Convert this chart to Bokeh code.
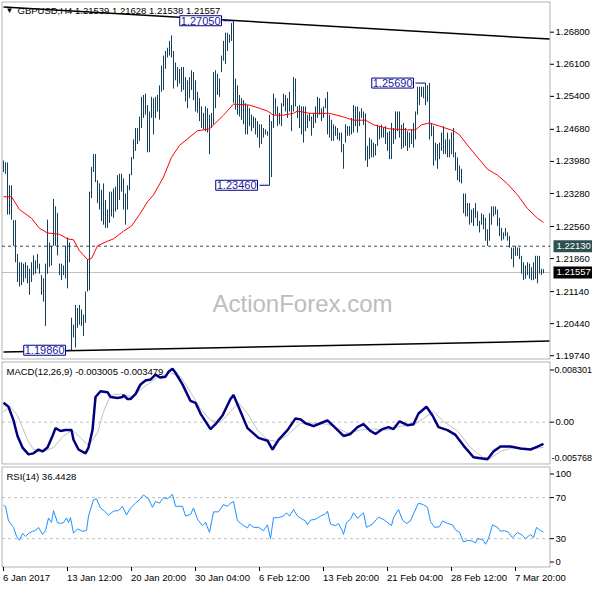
from bokeh.plotting import figure
from bokeh.layouts import column
from bokeh.models import Range1d, Label, ColumnDataSource, BoxAnnotation
from bokeh.embed import file_html
from bokeh.resources import INLINE

FONT = "Liberation Sans"
FS = "9.5px"

# ---------------- data ----------------
bar_high = [
    1.2400, 1.2396, 1.2396, 1.2346, 1.2346, 1.2270, 1.2270, 1.2196, 1.2178, 1.2178,
    1.2175, 1.2178, 1.2171, 1.2164, 1.2178, 1.2193, 1.2182, 1.2196, 1.2175, 1.2150,
    1.2143, 1.2175, 1.2271, 1.2221, 1.2214, 1.2316, 1.2300, 1.2286, 1.2175, 1.2175,
    1.2171, 1.2214, 1.2232, 1.2221, 1.2057, 1.2042, 1.2085, 1.2078, 1.2085, 1.2075,
    1.2064, 1.2114, 1.2185, 1.2332, 1.2386, 1.2414, 1.2414, 1.2357, 1.2350, 1.2336,
    1.2350, 1.2314, 1.2293, 1.2332, 1.2332, 1.2339, 1.2343, 1.2368, 1.2371, 1.2371,
    1.2361, 1.2328, 1.2346, 1.2371, 1.2407, 1.2446, 1.2471, 1.2471, 1.2496, 1.2539,
    1.2543, 1.2546, 1.2521, 1.2507, 1.2539, 1.2536, 1.2539, 1.2543, 1.2564, 1.2607,
    1.2629, 1.2639, 1.2646, 1.2661, 1.2673, 1.2639, 1.2614, 1.2604, 1.2600, 1.2604,
    1.2604, 1.2582, 1.2575, 1.2582, 1.2597, 1.2593, 1.2575, 1.2550, 1.2536, 1.2518,
    1.2504, 1.2518, 1.2514, 1.2500, 1.2504, 1.2593, 1.2597, 1.2589, 1.2579, 1.2629,
    1.2661, 1.2679, 1.2679, 1.2675, 1.2700, 1.2705, 1.2579, 1.2564, 1.2543, 1.2536,
    1.2532, 1.2525, 1.2521, 1.2514, 1.2500, 1.2496, 1.2493, 1.2486, 1.2479, 1.2479,
    1.2471, 1.2468, 1.2464, 1.2500, 1.2486, 1.2546, 1.2536, 1.2518, 1.2504, 1.2525,
    1.2546, 1.2543, 1.2536, 1.2550, 1.2521, 1.2582, 1.2579, 1.2518, 1.2521, 1.2518,
    1.2518, 1.2518, 1.2500, 1.2504, 1.2496, 1.2504, 1.2518, 1.2539, 1.2536, 1.2514,
    1.2518, 1.2536, 1.2550, 1.2500, 1.2489, 1.2479, 1.2475, 1.2471, 1.2461, 1.2461,
    1.2436, 1.2479, 1.2475, 1.2475, 1.2493, 1.2521, 1.2518, 1.2518, 1.2507, 1.2514,
    1.2507, 1.2503, 1.2432, 1.2450, 1.2446, 1.2439, 1.2436, 1.2478, 1.2475, 1.2478,
    1.2471, 1.2475, 1.2461, 1.2464, 1.2482, 1.2471, 1.2507, 1.2507, 1.2507, 1.2478,
    1.2482, 1.2471, 1.2464, 1.2461, 1.2468, 1.2482, 1.2507, 1.2561, 1.2561, 1.2561,
    1.2561, 1.2569, 1.2564, 1.2569, 1.2482, 1.2475, 1.2439, 1.2436, 1.2439, 1.2461,
    1.2475, 1.2446, 1.2461, 1.2446, 1.2461, 1.2471, 1.2418, 1.2407, 1.2389, 1.2382,
    1.2328, 1.2328, 1.2307, 1.2307, 1.2293, 1.2296, 1.2307, 1.2289, 1.2268, 1.2285,
    1.2282, 1.2275, 1.2250, 1.2285, 1.2300, 1.2300, 1.2300, 1.2293, 1.2275, 1.2253,
    1.2243, 1.2253, 1.2243, 1.2235, 1.2210, 1.2210, 1.2214, 1.2210, 1.2210, 1.2192,
    1.2178, 1.2171, 1.2178, 1.2175, 1.2167, 1.2178, 1.2192, 1.2192, 1.2192, 1.2164,
    1.2163,
]
bar_low = [
    1.2375, 1.2371, 1.2282, 1.2282, 1.2271, 1.2214, 1.2178, 1.2135, 1.2125, 1.2128,
    1.2135, 1.2143, 1.2132, 1.2107, 1.2135, 1.2150, 1.2153, 1.2164, 1.2153, 1.2107,
    1.2092, 1.2039, 1.2153, 1.2168, 1.2171, 1.2214, 1.2214, 1.2193, 1.2150, 1.2139,
    1.2150, 1.2143, 1.2121, 1.2178, 1.1986, 1.2014, 1.1992, 1.2035, 1.2042, 1.2039,
    1.2017, 1.2046, 1.2114, 1.2117, 1.2318, 1.2375, 1.2353, 1.2307, 1.2293, 1.2268,
    1.2260, 1.2253, 1.2253, 1.2264, 1.2278, 1.2275, 1.2289, 1.2293, 1.2314, 1.2332,
    1.2293, 1.2260, 1.2293, 1.2335, 1.2368, 1.2403, 1.2421, 1.2436, 1.2443, 1.2471,
    1.2493, 1.2500, 1.2418, 1.2418, 1.2493, 1.2457, 1.2493, 1.2507, 1.2489, 1.2550,
    1.2554, 1.2600, 1.2625, 1.2629, 1.2625, 1.2557, 1.2575, 1.2561, 1.2568, 1.2550,
    1.2554, 1.2529, 1.2514, 1.2536, 1.2554, 1.2532, 1.2507, 1.2504, 1.2486, 1.2471,
    1.2468, 1.2464, 1.2461, 1.2414, 1.2471, 1.2479, 1.2514, 1.2543, 1.2539, 1.2593,
    1.2618, 1.2611, 1.2639, 1.2657, 1.2661, 1.2525, 1.2511, 1.2500, 1.2496, 1.2489,
    1.2479, 1.2457, 1.2457, 1.2475, 1.2464, 1.2471, 1.2457, 1.2450, 1.2428, 1.2436,
    1.2450, 1.2457, 1.2454, 1.2346, 1.2364, 1.2471, 1.2500, 1.2475, 1.2479, 1.2475,
    1.2518, 1.2507, 1.2493, 1.2507, 1.2464, 1.2507, 1.2518, 1.2493, 1.2471, 1.2457,
    1.2439, 1.2464, 1.2471, 1.2486, 1.2454, 1.2471, 1.2482, 1.2493, 1.2500, 1.2486,
    1.2493, 1.2514, 1.2457, 1.2450, 1.2443, 1.2443, 1.2454, 1.2446, 1.2443, 1.2418,
    1.2382, 1.2439, 1.2454, 1.2454, 1.2457, 1.2461, 1.2475, 1.2461, 1.2475, 1.2493,
    1.2478, 1.2400, 1.2386, 1.2403, 1.2407, 1.2407, 1.2411, 1.2432, 1.2446, 1.2450,
    1.2450, 1.2436, 1.2421, 1.2403, 1.2403, 1.2436, 1.2446, 1.2464, 1.2450, 1.2425,
    1.2428, 1.2432, 1.2421, 1.2428, 1.2436, 1.2428, 1.2446, 1.2500, 1.2521, 1.2539,
    1.2536, 1.2521, 1.2528, 1.2446, 1.2453, 1.2389, 1.2400, 1.2382, 1.2403, 1.2421,
    1.2414, 1.2414, 1.2407, 1.2407, 1.2414, 1.2407, 1.2378, 1.2357, 1.2353, 1.2350,
    1.2285, 1.2278, 1.2278, 1.2260, 1.2264, 1.2257, 1.2275, 1.2257, 1.2243, 1.2260,
    1.2250, 1.2225, 1.2214, 1.2225, 1.2260, 1.2278, 1.2282, 1.2257, 1.2235, 1.2225,
    1.2228, 1.2235, 1.2225, 1.2210, 1.2185, 1.2167, 1.2192, 1.2192, 1.2185, 1.2153,
    1.2139, 1.2142, 1.2150, 1.2142, 1.2139, 1.2139, 1.2142, 1.2132, 1.2153, 1.2150,
    1.2154,
]
bar_idx = list(range(len(bar_high)))

ma_idx = [0, 4, 8, 14, 18, 22, 28, 32, 35, 38, 42, 44, 47, 52, 55, 60, 64, 68, 72, 75,
          80, 84, 88, 97, 103, 110, 115, 123, 128, 132, 135, 140, 145, 147, 153, 163, 170, 175, 181, 185,
          193, 202, 206, 209, 213, 218, 225, 228, 233, 242, 247, 252, 257, 262, 267, 270]
ma_val = [1.2321, 1.2321, 1.2293, 1.2274, 1.2252, 1.2242, 1.2239, 1.2229, 1.2227, 1.2203,
          1.2184, 1.2186, 1.2214, 1.2224, 1.2229, 1.2246, 1.2257, 1.2282, 1.2310, 1.2325,
          1.2364, 1.2407, 1.2433, 1.2465, 1.2469, 1.2499, 1.2523, 1.2521, 1.2514, 1.2508,
          1.2499, 1.2499, 1.2503, 1.2508, 1.2503, 1.2503, 1.2495, 1.2488, 1.2488, 1.2478,
          1.2469, 1.2467, 1.2467, 1.2478, 1.2482, 1.2475, 1.2465, 1.2456, 1.2428, 1.2381,
          1.2368, 1.2349, 1.2325, 1.2295, 1.2274, 1.2265]

trend_idx = [0, 273]
trend_upper = [1.2735, 1.2665]
trend_lower = [1.1982, 1.2006]

support_level = 1.2213
last_price = 1.21557

price_ticks = [1.268, 1.261, 1.254, 1.2468, 1.2398, 1.2328, 1.2256, 1.2186, 1.2114, 1.2044, 1.1974]

marker_text = ["1.27050", "1.23460", "1.25690", "1.19860"]
marker_price = [1.2705, 1.2346, 1.2569, 1.1986]
marker_label_idx = [110, 128, 206, 32]
marker_bar_idx = [115, 133, 211, 34]

macd_idx = [0, 2.5, 5, 7, 9.5, 12.5, 15, 17.5, 19.5, 22, 24.5, 26, 28.5, 31, 34, 35, 37.5, 41, 42.5, 44.5,
            46, 48.5, 52, 53.5, 57, 59.5, 60, 62, 63.5, 66, 68.5, 71, 73.5, 76, 78.5, 81, 82.5, 84.5, 86, 89.5,
            93.5, 96, 98.5, 101, 103.5, 106, 109.5, 113.5, 115, 117.5, 122, 127.5, 132, 134.5, 137.5, 142, 146,
            148.5, 151, 155, 158.5, 162, 165, 170, 173.5, 177, 180, 183.5, 186, 189.5, 192.5, 195, 198, 202, 205,
            207.5, 211.5, 214.5, 217.5, 222, 226, 230, 235, 242, 245, 248.5, 253.5, 258.5, 263.5, 267, 270]
macd_val = [0.00267, 0.00213, 0.00025, -0.00190, -0.00350, -0.00444, -0.00430, -0.00377, -0.00403, -0.00350,
            -0.00190, -0.00082, -0.00122, -0.00109, -0.00109, -0.00243, -0.00377, -0.00430, -0.00350, -0.00109,
            0.00347, 0.00427, 0.00414, 0.00347, 0.00334, 0.00347, 0.00374, 0.00320, 0.00320, 0.00387,
            0.00521, 0.00575, 0.00588, 0.00655, 0.00615, 0.00628, 0.00695, 0.00736, 0.00682, 0.00521,
            0.00293, 0.00267, 0.00119, 0.00012, -0.00095, -0.00028, 0.00092, 0.00320, 0.00374, 0.00213,
            -0.00082, -0.00216, -0.00256, -0.00377, -0.00243, -0.00109, 0.00052, 0.00039, -0.00015, -0.00055,
            -0.00015, 0.00025, -0.00055, -0.00190, -0.00162, -0.00068, -0.00028, -0.00122, -0.00162, -0.00095,
            -0.00068, -0.00095, 0.00012, -0.00042, -0.00028, 0.00119, 0.00213, 0.00092, -0.00068, -0.00109,
            -0.00176, -0.00323, -0.00484, -0.00511, -0.00403, -0.00336, -0.00336, -0.00363, -0.00377, -0.00336,
            -0.003005]
signal_idx = [0, 3.5, 7, 12, 15, 20, 25, 30, 34.5, 38.5, 42.5, 47, 50, 53.5, 58.5, 64.5, 70, 77, 83.5, 88.5,
              93.5, 98.5, 103.5, 108.5, 113.5, 117.5, 122, 127, 132, 137, 142, 148.5, 155, 162, 167, 172,
              178.5, 185, 192, 198.5, 205, 210, 215, 220, 227, 233.5, 239.5, 243.5, 248.5, 255, 262, 270]
signal_val = [0.00146, 0.00213, 0.00092, -0.00243, -0.00377, -0.00404, -0.00350, -0.00189, -0.00109, -0.00216,
              -0.00323, -0.00149, 0.00146, 0.00374, 0.00387, 0.00347, 0.00481, 0.00615, 0.00682, 0.00628,
              0.00414, 0.00186, 0.00025, -0.00001, 0.00146, 0.00267, 0.00119, -0.00109, -0.00243, -0.00269,
              -0.00176, -0.00015, -0.00015, -0.00028, -0.00082, -0.00149, -0.00109, -0.00095, -0.00109, -0.00055,
              -0.00042, 0.00052, 0.00146, 0.00012, -0.00122, -0.00350, -0.00484, -0.00497, -0.00403, -0.00350,
              -0.00377, -0.003479]
macd_max = 0.008301
macd_min = -0.005768

rsi_idx = [0, 1, 2.5, 5, 6.5, 8, 9.5, 11, 12.5, 14.5, 16, 17.5, 19.5, 21, 22.5, 24, 25, 27, 28.5, 30,
           31.5, 32.5, 33.5, 35, 37, 39.5, 41.5, 42.5, 45, 46.5, 48.5, 50.5, 52.5, 55, 57.5, 59.5, 61.5, 63.5,
           66, 68.5, 70, 72.5, 74.5, 76, 78, 80, 82, 84.5, 86, 89.5, 91, 93.5, 95, 97, 99.5, 101, 103, 105,
           107.5, 110, 112, 113.5, 115, 117, 119.5, 122, 123, 125, 127.5, 130, 132, 133.5, 135, 137.5, 140,
           141.5, 143, 145, 147,
           148.5, 151, 152, 153.5, 156, 158.5, 161, 162, 163.5, 166, 167.5, 169.5, 170, 171.5, 173.5, 175,
           177, 180, 181.5, 184.5, 187.5, 190.5, 194, 195, 197.5, 199.5, 201.5, 203.5, 205, 207.5, 210, 212,
           213.5, 215.5, 218, 219.5, 222, 224.5, 226, 228, 230, 232, 234.5, 236, 237, 239.5, 241, 242.5,
           244.5, 247, 248.5, 250.5, 252.5, 254.5, 257, 259.5, 261, 263.5, 265, 266.5, 268.5, 270]
rsi_val = [62.2, 61.5, 47.3, 41.0, 32.2, 28.4, 35.0, 32.2, 35.0, 37.2, 37.8, 41.0, 34.1, 37.8, 50.1, 45.7,
           57.4, 45.7, 44.8, 45.7, 50.1, 45.7, 50.4, 35.3, 39.5, 37.2, 37.8, 52.0, 67.8, 68.8, 59.9, 56.8,
           53.0, 56.8, 57.4, 61.5, 53.0, 59.9, 64.6, 68.8, 72.6, 68.8, 60.5, 66.2, 64.6, 70.0, 68.8, 73.1,
           61.5, 61.5, 52.0, 53.6, 59.9, 48.9, 42.6, 45.7, 36.2, 56.1, 56.1, 63.1, 61.5, 64.6, 66.2, 47.3,
           43.5, 40.4, 44.2, 41.0, 41.0, 37.8, 43.5, 30.0, 50.4, 50.4, 52.0, 55.2, 52.0, 58.4, 52.0,
           49.9, 47.3, 43.5, 48.0, 48.9, 52.0, 54.2, 56.8, 44.2, 42.6, 44.8, 37.2, 34.1, 45.7, 48.9, 55.2,
           49.9, 55.2, 41.0, 44.2, 51.1, 48.0, 42.6, 50.4, 58.4, 48.0, 44.8, 47.3, 54.2, 64.6, 63.1, 60.5,
           46.6, 41.0, 41.6, 47.3, 44.8, 43.5, 38.5, 36.2, 26.8, 28.4, 27.7, 25.8, 30.0, 29.1, 24.6, 30.0,
           43.5, 41.0, 37.2, 37.8, 36.2, 30.9, 36.2, 33.1, 30.0, 34.1, 30.9, 41.0, 37.8, 36.44]
rsi_levels = [70, 30]
rsi_top = 99.8
rsi_bottom = 2.4

date_tick_idx = [0, 32, 64, 96, 128, 160, 192, 224, 256]
date_tick_labels = ["6 Jan 2017", "13 Jan 12:00", "20 Jan 20:00", "30 Jan 04:00", "6 Feb 12:00",
                    "13 Feb 20:00", "21 Feb 04:00", "28 Feb 12:00", "7 Mar 20:00"]

main_title = "GBPUSD,H4  1.21539 1.21628 1.21538 1.21557"
macd_title = "MACD(12,26,9) -0.003005 -0.003479"
rsi_title = "RSI(14) 36.4428"

price_top = 1.27459
price_bottom = 1.19669

# ---------------- geometry (pixels) ----------------
W = 592
PPB = 2.0                       # pixels per bar
XS = -1.5                       # bar index at the left canvas edge
XR = Range1d(XS, XS + W / PPB)


def px_x(px):
    return XS + px / PPB


X0, X1 = px_x(1.5), px_x(549.5)   # plot box left / right edge (bar index)
TICK_END = px_x(553.5)
LAB_X = px_x(555)
HL_X = px_x(553)
RIGHT_EDGE = px_x(591.5)

BAR_COLOR = "#163f5c"


def panel(v_top, v_bot, h, top_px, bot_px):
    per = (v_top - v_bot) / (bot_px - top_px)
    yr = Range1d(v_bot - (h - bot_px) * per, v_top + top_px * per)
    return yr, (lambda px: v_top - (px - top_px) * per)


def make_fig(h, yr):
    p = figure(width=W, height=h, x_range=XR, y_range=yr,
               x_axis_location=None, y_axis_location=None,
               output_backend="svg", toolbar_location=None,
               min_border_left=0, min_border_right=0, min_border_top=0, min_border_bottom=0,
               background_fill_color="white", border_fill_color="white")
    p.grid.visible = False
    p.outline_line_color = None
    return p


def txt(p, x, y, s, size=FS, color="black", align="left", baseline="middle", **kw):
    p.add_layout(Label(x=x, y=y, text=s, text_font=FONT, text_font_size=size, text_color=color,
                       text_align=align, text_baseline=baseline, **kw))


def frame_box(p, top, bottom):
    p.add_layout(BoxAnnotation(left=X0, right=X1, top=top, bottom=bottom, fill_color=None,
                               line_color="black", line_width=1))


def right_ticks(p, ys):
    p.segment(x0=[X1] * len(ys), y0=ys, x1=[TICK_END] * len(ys), y1=ys, line_color="black", line_width=1)


# ---------- main price panel ----------
H1 = 360
yr1, at1 = panel(price_top, price_bottom, H1, 1.5, 358.5)
p1 = make_fig(H1, yr1)

txt(p1, 149.5, 1.2089, "ActionForex.com", size="24px", color="#bdbdbd", align="center", level="underlay")

p1.segment(x0=[X0], y0=[last_price], x1=[X1], y1=[last_price], line_color="#c0c0c0", line_width=1)
p1.segment(x0=[X0], y0=[support_level], x1=[X1], y1=[support_level], line_color="#2f4f4f",
           line_width=1, line_dash="3 3")

bars = ColumnDataSource(dict(x=bar_idx, lo=bar_low, hi=bar_high))
p1.segment(x0="x", y0="lo", x1="x", y1="hi", source=bars, line_color=BAR_COLOR, line_width=1)

p1.line(ma_idx, ma_val, line_color="#ff0000", line_width=1)
p1.line(trend_idx, trend_upper, line_color="black", line_width=1.5)
p1.line(trend_idx, trend_lower, line_color="black", line_width=1.5)

for t, pr, lx, bx in zip(marker_text, marker_price, marker_label_idx, marker_bar_idx):
    p1.segment(x0=[lx], y0=[pr], x1=[bx], y1=[pr], line_color="#000080", line_width=1)
    txt(p1, lx - 1, pr, t, size="11px", color="#1a1aa0", align="right",
        background_fill_color="white", border_line_color="#000080", border_line_width=1, padding=1)

txt(p1, px_x(5), at1(9.5), "\u25bc", size="8px")
txt(p1, px_x(17), at1(9.5), main_title)

frame_box(p1, price_top, price_bottom)
right_ticks(p1, price_ticks)
for v in price_ticks:
    txt(p1, LAB_X, v, "%.5f" % v)
txt(p1, HL_X, support_level, "1.22130", color="white", background_fill_color="#2f5050", padding=3)
txt(p1, HL_X, last_price, "1.21557", color="white", background_fill_color="black", padding=3)

# ---------- MACD panel ----------
H2 = 105
yr2, at2 = panel(macd_max, macd_min, H2, 1.5, 103.5)
p2 = make_fig(H2, yr2)
p2.segment(x0=[X0], y0=[0], x1=[X1], y1=[0], line_color="#c0c0c0", line_width=1, line_dash="3 3")
p2.line(signal_idx, signal_val, line_color="#c0c0c0", line_width=1)
p2.line(macd_idx, macd_val, line_color="#000080", line_width=2.5)
txt(p2, px_x(6), at2(10.5), macd_title)
frame_box(p2, macd_max, macd_min)
right_ticks(p2, [at2(9.5), 0.0])
txt(p2, RIGHT_EDGE, at2(9.5), "0.008301", size="9px", align="right")
txt(p2, LAB_X, 0.0, "0.00")
txt(p2, RIGHT_EDGE, at2(97.5), "-0.005768", size="9px", align="right")

# ---------- RSI panel ----------
H3 = 119
yr3, at3 = panel(rsi_top, rsi_bottom, H3, 1.5, 101.5)
p3 = make_fig(H3, yr3)
for lv in rsi_levels:
    p3.segment(x0=[X0], y0=[lv], x1=[X1], y1=[lv], line_color="#c0c0c0", line_width=1, line_dash="3 3")
p3.line(rsi_idx, rsi_val, line_color="#1e90ff", line_width=1)
txt(p3, px_x(6), at3(11), rsi_title)
frame_box(p3, rsi_top, rsi_bottom)
rsi_label_y = [at3(8.5), 70, 30, at3(96.5)]
right_ticks(p3, rsi_label_y)
for v, s in zip(rsi_label_y, ["100", "70", "30", "0"]):
    txt(p3, LAB_X, v, s)

p3.segment(x0=date_tick_idx, y0=[rsi_bottom] * len(date_tick_idx), x1=date_tick_idx,
           y1=[at3(105.5)] * len(date_tick_idx), line_color="black", line_width=1)
for xi, s in zip(date_tick_idx, date_tick_labels):
    txt(p3, xi - 0.25, at3(106), s, baseline="top")

layout = column(p1, p2, p3, spacing=0)
open("out.html", "w").write(file_html(layout, INLINE))
